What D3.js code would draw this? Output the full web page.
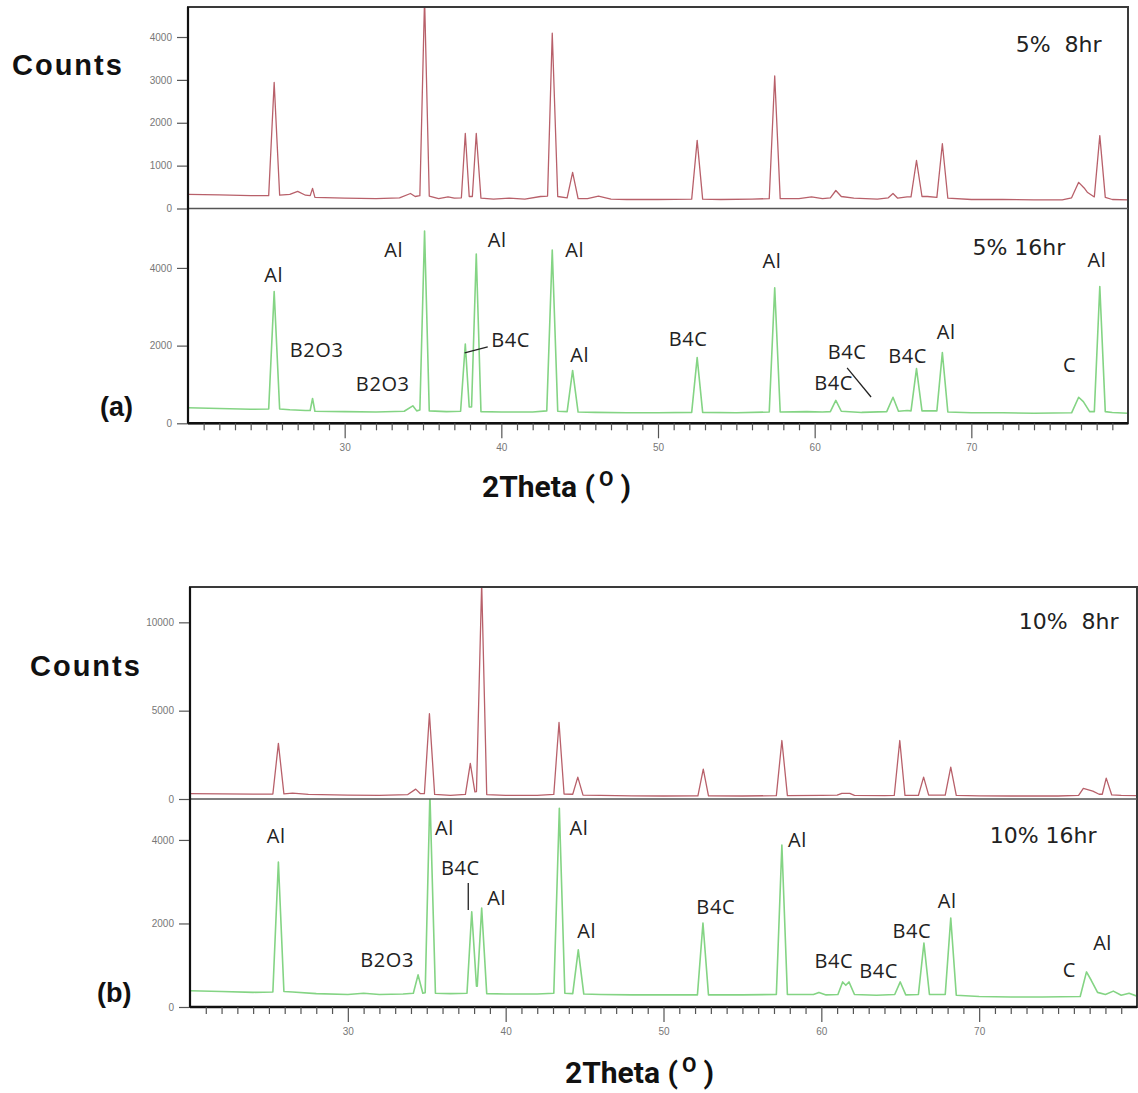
<!DOCTYPE html>
<html>
<head>
<meta charset="utf-8">
<script src="https://cdnjs.cloudflare.com/ajax/libs/d3/7.8.5/d3.min.js"></script>
<style>
body{margin:0;background:#fff;}
svg{display:block;}
</style>
</head>
<body>
<div id="figure"></div>
<script>
// 2Theta axis, shared by both figures
var thetaDomain = [20, 80];
var thetaMajor = [30, 40, 50, 60, 70];

// (a) 5% B4C, 8hr milling  [2theta, counts]
var counts5pct8hr = [
    [20,330],[22,320],[24,300],[25.15,300],[25.5,2940],[25.85,310],[26.5,330],[27.0,400],[27.5,310],
    [27.8,300],[27.95,470],[28.1,260],[30,240],[32,230],[33.5,250],[34.2,350],[34.5,280],[34.8,300],
    [35.1,4900],[35.4,290],[36,230],[36.6,270],[37.0,240],[37.45,250],[37.7,1750],[37.95,280],[38.15,280],
    [38.4,1750],[38.7,240],[39.5,220],[40.5,240],[41.5,220],[42.5,280],[42.95,290],[43.25,4090],[43.6,280],
    [44.2,250],[44.55,840],[44.9,230],[45.5,230],[46.2,290],[47,220],[48,210],[50,210],[52.15,220],
    [52.5,1590],[52.85,220],[54,210],[56,220],[57.1,230],[57.45,3090],[57.8,230],[59.0,230],[59.8,270],
    [60.5,230],[61.0,250],[61.35,420],[61.7,280],[62.5,240],[64,220],[64.7,250],[65.0,350],[65.3,240],
    [65.9,270],[66.15,270],[66.5,1120],[66.85,280],[67.2,280],[67.8,260],[68.15,1510],[68.5,240],[70,210],
    [72,210],[74,200],[75.8,200],[76.4,250],[76.85,610],[77.2,480],[77.4,380],[77.85,270],[78.2,1700],
    [78.55,260],[79,210],[80,200]
];
// (a) 5% B4C, 16hr milling
var counts5pct16hr = [
    [20,400],[22,380],[24,360],[25.15,370],[25.5,3390],[25.85,370],[26.5,350],[27.5,330],[27.8,330],
    [27.95,640],[28.1,310],[30,300],[32,290],[33.8,310],[34.35,450],[34.6,320],[34.8,340],[35.1,4950],
    [35.4,320],[36.5,300],[37.4,310],[37.7,2040],[37.95,420],[38.1,420],[38.4,4360],[38.7,300],[40,290],
    [42,290],[42.9,320],[43.25,4460],[43.6,310],[44.2,300],[44.55,1360],[44.9,290],[46,280],[48,270],
    [50,270],[52.15,280],[52.5,1690],[52.85,280],[55,270],[57.1,290],[57.45,3490],[57.8,290],[59.5,300],
    [60.5,290],[61.0,300],[61.35,590],[61.7,310],[63,280],[64.6,300],[65.0,670],[65.35,310],[65.9,330],
    [66.15,320],[66.5,1410],[66.85,320],[67.8,320],[68.15,1820],[68.5,290],[70,270],[72,270],[74,260],
    [76.4,270],[76.85,670],[77.15,560],[77.55,300],[77.85,300],[78.2,3520],[78.55,300],[79,280],[80,260]
];
var ticks5pct8hr = [0, 1000, 2000, 3000, 4000];
var ticks5pct16hr = [0, 2000, 4000];
// phase labels of the 16hr pattern: [text, 2theta, counts]
var phases5pct16hr = [
    ["Al",25.47,3642],["B2O3",28.21,1709],["B2O3",32.43,834],["Al",33.13,4286],["Al",39.73,4544],
    ["B4C",40.59,1966],["Al",44.68,4286],["Al",45.0,1580],["B4C",51.92,1992],["Al",57.28,4000],
    ["B4C",62.07,1657],["B4C",61.21,858],["B4C",65.93,1554],["Al",68.39,2173],["C",76.27,1322],
    ["Al",78.02,4028]
];
var leaders5pct16hr = [[37.66,1812,39.13,1966],[62.07,1425,63.6,677]];

// (b) 10% B4C, 8hr milling
var counts10pct8hr = [
    [20,300],[22,290],[24,280],[25.25,280],[25.6,3150],[25.95,290],[26.5,330],[27.5,260],[30,220],
    [32,200],[33.8,250],[34.3,560],[34.6,300],[34.85,300],[35.17,4830],[35.5,260],[36.5,200],[37.45,260],
    [37.76,2020],[38.05,400],[38.15,420],[38.48,12200],[38.8,250],[40,200],[42,200],[43.05,260],
    [43.38,4330],[43.7,280],[44.25,270],[44.57,1240],[44.9,220],[46,210],[48,180],[50,170],[52.18,180],
    [52.52,1690],[52.85,180],[55,170],[57.15,190],[57.5,3310],[57.85,190],[60,200],[61.0,220],[61.3,320],
    [61.8,320],[62.1,200],[64,190],[64.62,200],[64.97,3310],[65.3,200],[66.15,200],[66.48,1240],[66.8,220],
    [67.85,220],[68.2,1800],[68.55,200],[70,180],[72,170],[75,170],[76.3,200],[76.6,600],[77.2,450],
    [77.6,270],[77.8,270],[78.05,1180],[78.4,230],[79,200],[80,190]
];
// (b) 10% B4C, 16hr milling
var counts10pct16hr = [
    [20,390],[22,370],[24,350],[25.25,360],[25.6,3470],[25.95,370],[26.5,360],[28,320],[30,300],[31,330],
    [32,300],[33.5,310],[34.15,330],[34.45,770],[34.75,330],[34.9,340],[35.2,5100],[35.55,330],[36.5,320],
    [37.55,330],[37.85,2280],[38.15,500],[38.2,500],[38.48,2370],[38.8,320],[40,310],[42,310],[43.05,330],
    [43.4,4760],[43.75,330],[44.25,320],[44.6,1370],[44.95,310],[46,300],[48,290],[50,290],[52.15,290],
    [52.5,2010],[52.85,290],[55,290],[57.15,300],[57.5,3880],[57.85,300],[59.5,300],[59.85,350],[60.3,290],
    [61.05,300],[61.35,600],[61.55,520],[61.75,600],[62.1,300],[63.5,280],[64.65,300],[65.0,600],
    [65.35,290],[66.15,300],[66.5,1530],[66.85,300],[67.85,300],[68.2,2130],[68.55,280],[70,250],[72,240],
    [74,240],[76.4,250],[76.8,840],[77.1,640],[77.5,350],[78.0,300],[78.5,380],[79,280],[79.5,330],[80,260]
];
var ticks10pct8hr = [0, 5000, 10000];
var ticks10pct16hr = [0, 2000, 4000];
var phases10pct16hr = [
    ["Al",25.46,3928],["B2O3",32.49,958],["Al",36.12,4120],["B4C",37.13,3162],["Al",39.43,2443],
    ["Al",44.64,4120],["Al",45.14,1653],["B4C",53.31,2228],["Al",58.49,3832],["B4C",60.79,934],
    ["B4C",63.63,695],["B4C",65.74,1653],["Al",67.98,2371],["C",75.71,719],["Al",77.82,1365]
];
var leaders10pct16hr = [[37.63,2970,37.63,2323]];

var XrdFigure = {
    width: 1138,
    height: 1093,
    red: "#b8606a",
    green: "#84d484",

    init: function(){
        var svg = d3.select("#figure")
            .append("svg")
            .attr("width", this.width)
            .attr("height", this.height)
            .attr("xmlns", "http://www.w3.org/2000/svg");
        svg.append("rect")
            .attr("width", this.width)
            .attr("height", this.height)
            .attr("fill", "#fff");

        this.drawPanel(svg, {
            id: "a", left: 188, right: 1128, top: 7, mid: 208.5, bottom: 423.3,
            upMax: 4700, lowMax: 5530,
            up: counts5pct8hr, low: counts5pct16hr,
            upTicks: ticks5pct8hr, lowTicks: ticks5pct16hr,
            phases: phases5pct16hr, leaders: leaders5pct16hr,
            upLabel: ["5%  8hr", 78.31, 3649], lowLabel: ["5% 16hr", 76.0, 4338],
            counts: [12, 75], tag: [100, 416], title: [482, 497]
        });
        this.drawPanel(svg, {
            id: "b", left: 190, right: 1137, top: 587, mid: 799, bottom: 1007,
            upMax: 12000, lowMax: 4980,
            up: counts10pct8hr, low: counts10pct16hr,
            upTicks: ticks10pct8hr, lowTicks: ticks10pct16hr,
            phases: phases10pct16hr, leaders: leaders10pct16hr,
            upLabel: ["10%  8hr", 78.83, 9605], lowLabel: ["10% 16hr", 77.44, 3928],
            counts: [30, 676], tag: [97, 1002], title: [565, 1083]
        });
    },

    drawPanel: function(svg, p){
        var x = d3.scaleLinear().domain(thetaDomain).range([p.left, p.right]);
        var yUp = d3.scaleLinear().domain([0, p.upMax]).range([p.mid, p.top]);
        var yLow = d3.scaleLinear().domain([0, p.lowMax]).range([p.bottom, p.mid]);
        var g = svg.append("g").attr("class", "panel-" + p.id);

        //clip areas of the two stacked patterns
        var defs = svg.append("defs");
        defs.append("clipPath").attr("id", "clip-up-" + p.id)
            .append("rect")
            .attr("x", p.left).attr("y", p.top)
            .attr("width", p.right - p.left).attr("height", p.mid - p.top);
        defs.append("clipPath").attr("id", "clip-low-" + p.id)
            .append("rect")
            .attr("x", p.left).attr("y", p.mid)
            .attr("width", p.right - p.left).attr("height", p.bottom - p.mid);

        //patterns
        var lineUp = d3.line().x(function(d){ return x(d[0]); }).y(function(d){ return yUp(d[1]); });
        var lineLow = d3.line().x(function(d){ return x(d[0]); }).y(function(d){ return yLow(d[1]); });
        g.append("path")
            .attr("d", lineUp(p.up))
            .attr("clip-path", "url(#clip-up-" + p.id + ")")
            .attr("fill", "none")
            .attr("stroke", this.red)
            .attr("stroke-width", 1.3)
            .attr("stroke-linejoin", "round");
        g.append("path")
            .attr("d", lineLow(p.low))
            .attr("clip-path", "url(#clip-low-" + p.id + ")")
            .attr("fill", "none")
            .attr("stroke", this.green)
            .attr("stroke-width", 1.6)
            .attr("stroke-linejoin", "round");

        //frame and divider
        g.append("rect")
            .attr("x", p.left).attr("y", p.top)
            .attr("width", p.right - p.left).attr("height", p.bottom - p.top)
            .attr("fill", "none")
            .attr("stroke", "#3a3a3a")
            .attr("stroke-width", 2);
        g.append("line")
            .attr("x1", p.left).attr("x2", p.right)
            .attr("y1", p.mid).attr("y2", p.mid)
            .attr("stroke", "#555")
            .attr("stroke-width", 1.6);
        g.append("line")
            .attr("x1", p.left).attr("x2", p.right)
            .attr("y1", p.bottom).attr("y2", p.bottom)
            .attr("stroke", "#111")
            .attr("stroke-width", 2.4);
        g.append("line")
            .attr("x1", p.left).attr("x2", p.left)
            .attr("y1", p.top).attr("y2", p.bottom)
            .attr("stroke", "#111")
            .attr("stroke-width", 2.2);

        //y axes
        var axUp = g.append("g").attr("transform", "translate(" + (p.left - 1) + ",0)")
            .call(d3.axisLeft(yUp).tickValues(p.upTicks).tickSize(10).tickPadding(5).tickFormat(d3.format("d")));
        var axLow = g.append("g").attr("transform", "translate(" + (p.left - 1) + ",0)")
            .call(d3.axisLeft(yLow).tickValues(p.lowTicks).tickSize(10).tickPadding(5).tickFormat(d3.format("d")));
        this.styleAxis(axUp);
        this.styleAxis(axLow);

        //x axis, major and minor ticks
        var minor = d3.range(21, 80).filter(function(v){ return thetaMajor.indexOf(v) < 0; });
        var axMinor = g.append("g").attr("transform", "translate(0," + p.bottom + ")")
            .call(d3.axisBottom(x).tickValues(minor).tickSize(7).tickFormat(""));
        var axMajor = g.append("g").attr("transform", "translate(0," + p.bottom + ")")
            .call(d3.axisBottom(x).tickValues(thetaMajor).tickSize(15).tickPadding(6).tickFormat(d3.format("d")));
        this.styleAxis(axMinor);
        this.styleAxis(axMajor);

        //phase labels on the 16hr pattern
        g.selectAll("text.phase")
            .data(p.phases)
            .enter()
            .append("text")
            .attr("class", "phase")
            .attr("x", function(d){ return x(d[1]); })
            .attr("y", function(d){ return yLow(d[2]); })
            .attr("text-anchor", "middle")
            .style("font-family", "'Open Sans', sans-serif")
            .style("font-size", "20px")
            .style("letter-spacing", "0.6px")
            .attr("fill", "#222")
            .text(function(d){ return d[0]; });
        g.selectAll("line.leader")
            .data(p.leaders)
            .enter()
            .append("line")
            .attr("class", "leader")
            .attr("x1", function(d){ return x(d[0]); })
            .attr("y1", function(d){ return yLow(d[1]); })
            .attr("x2", function(d){ return x(d[2]); })
            .attr("y2", function(d){ return yLow(d[3]); })
            .attr("stroke", "#222")
            .attr("stroke-width", 1.3);

        //sample labels
        [[p.upLabel, yUp], [p.lowLabel, yLow]].forEach(function(item){
            g.append("text")
                .attr("x", x(item[0][1]))
                .attr("y", item[1](item[0][2]))
                .attr("text-anchor", "end")
                .attr("xml:space", "preserve")
                .style("white-space", "pre")
                .style("font-family", "'DejaVu Sans', sans-serif")
                .style("font-size", "22px")
                .attr("fill", "#222")
                .text(item[0][0]);
        });

        //axis titles and figure tag
        g.append("text")
            .attr("x", p.counts[0]).attr("y", p.counts[1])
            .style("font-family", "'Liberation Sans', Arial, sans-serif")
            .style("font-size", "29px")
            .style("font-weight", "bold")
            .style("letter-spacing", "2px")
            .attr("fill", "#111")
            .text("Counts");
        g.append("text")
            .attr("x", p.tag[0]).attr("y", p.tag[1])
            .style("font-family", "'Liberation Sans', Arial, sans-serif")
            .style("font-size", "27px")
            .style("font-weight", "bold")
            .attr("fill", "#111")
            .text("(" + p.id + ")");
        var title = g.append("text")
            .attr("x", p.title[0]).attr("y", p.title[1])
            .attr("xml:space", "preserve")
            .style("white-space", "pre")
            .style("font-family", "Roboto, sans-serif")
            .style("font-size", "30px")
            .style("font-weight", "bold")
            .attr("fill", "#111");
        title.append("tspan").text("2Theta (");
        title.append("tspan").attr("dx", 4).attr("dy", -11).style("font-size", "21px").text("O");
        title.append("tspan").attr("dx", 7).attr("dy", 11).text(")");
    },

    styleAxis: function(ax){
        ax.select(".domain").remove();
        ax.selectAll(".tick line")
            .attr("stroke", "#555")
            .attr("stroke-width", 1.2);
        ax.selectAll(".tick text")
            .attr("fill", "#777")
            .style("font-family", "'Liberation Sans', Arial, sans-serif")
            .style("font-size", "10px");
    }
};

XrdFigure.init();
</script>
</body>
</html>
